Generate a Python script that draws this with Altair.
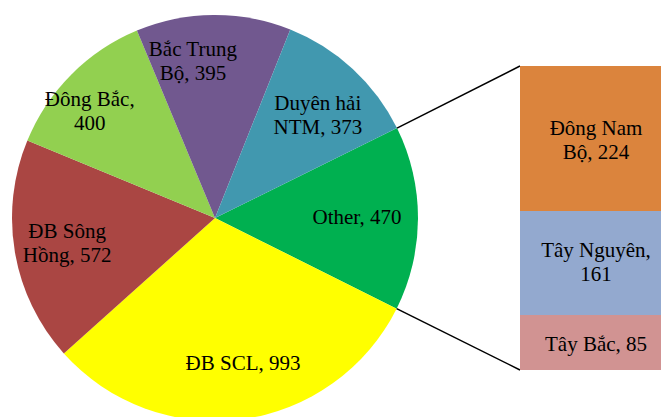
import math
import altair as alt
import pandas as pd

# ---- data ----
pie_categories = ["Other", "ĐB SCL", "ĐB Sông Hồng", "Đông Bắc", "Bắc Trung Bộ", "Duyên hải NTM"]
pie_values = [470, 993, 572, 400, 395, 373]
pie_labels = ["Other, 470", "ĐB SCL, 993", "ĐB Sông\nHồng, 572", "Đông Bắc,\n400",
              "Bắc Trung\nBộ, 395", "Duyên hải\nNTM, 373"]

bar_categories = ["Đông Nam Bộ", "Tây Nguyên", "Tây Bắc"]
bar_values = [224, 161, 85]
bar_labels = ["Đông Nam\nBộ, 224", "Tây Nguyên,\n161", "Tây Bắc, 85"]

# ---- styles / geometry ----
pie_colors = ["#00B050", "#FFFF00", "#AA4643", "#92D050", "#71588F", "#4198AF"]
bar_colors = ["#DB843D", "#93A9CF", "#D19392"]
CX, CY, R = 215, 218, 203
START_DEG = 63.7
LABEL_R = 150
BAR_X0, BAR_X1, BAR_TOP, BAR_BOTTOM = 520, 661, 66, 370
BAR_LABEL_X = 596
FONT = "'Liberation Serif', 'Times New Roman', 'DejaVu Serif', serif"
FS = 21
LH = 24
label_nudge = {
    "Other": (-8, 0),
    "ĐB SCL": (8, -3),
    "ĐB Sông Hồng": (0, 1),
    "Đông Bắc": (-19, 0),
    "Bắc Trung Bộ": (-21, -6),
    "Duyên hải NTM": (1, 8),
}
bar_label_nudge = {"Đông Nam Bộ": 3, "Tây Nguyên": 0, "Tây Bắc": 2}

start = math.radians(START_DEG)
theta_scale = alt.Scale(range=[start, start + 2 * math.pi])
color_scale = alt.Scale(domain=pie_categories + bar_categories, range=pie_colors + bar_colors)

pie_df = pd.DataFrame({
    "category": pie_categories,
    "value": pie_values,
    "label": pie_labels,
    "idx": list(range(len(pie_categories))),
})

bar_df = pd.DataFrame({
    "category": bar_categories,
    "value": bar_values,
    "label": bar_labels,
    "idx": list(range(len(bar_categories)))[::-1],  # bottom first in stack
})


def block_shift(text):
    return -(text.count("\n")) * LH / 2


arcs = alt.Chart(pie_df).mark_arc(outerRadius=R).encode(
    theta=alt.Theta("value:Q", stack=True, scale=theta_scale),
    color=alt.Color("category:N", scale=color_scale, legend=None),
    order=alt.Order("idx:Q"),
    x=alt.value(CX),
    y=alt.value(CY),
)

label_layers = []
for cat, lab in zip(pie_categories, pie_labels):
    dx, dy = label_nudge[cat]
    label_layers.append(
        alt.Chart(pie_df).mark_text(
            radius=LABEL_R, font=FONT, fontSize=FS, lineBreak="\n", lineHeight=LH,
            color="black", align="center", baseline="middle",
            dx=dx, dy=dy + block_shift(lab),
        ).encode(
            theta=alt.Theta("value:Q", stack=True, scale=theta_scale),
            order=alt.Order("idx:Q"),
            text=alt.condition(alt.datum.category == cat, "label:N", alt.value("")),
            x=alt.value(CX),
            y=alt.value(CY),
        )
    )

# connector lines from the "Other" slice edges to the bar corners
total = sum(pie_values)
other_frac = pie_values[pie_categories.index("Other")] / total
a1 = start
a2 = start + other_frac * 2 * math.pi
lines_df = pd.DataFrame({
    "x0": [CX + R * math.sin(a1), CX + R * math.sin(a2)],
    "y0": [CY - R * math.cos(a1), CY - R * math.cos(a2)],
    "x1": [BAR_X0, BAR_X0],
    "y1": [BAR_TOP, BAR_BOTTOM],
})
lines = alt.Chart(lines_df).mark_rule(color="black", strokeWidth=1.5).encode(
    x=alt.X("x0:Q", scale=None),
    y=alt.Y("y0:Q", scale=None),
    x2="x1:Q",
    y2="y1:Q",
)

y_scale = alt.Scale(domain=[0, sum(bar_values)], range=[BAR_BOTTOM, BAR_TOP])

bar_base = alt.Chart(bar_df).transform_stack(
    stack="value", groupby=[], as_=["s0", "s1"], sort=[alt.SortField("idx")]
).transform_calculate(
    mid="(datum.s0 + datum.s1) / 2"
)

bars = bar_base.mark_bar().encode(
    x=alt.value(BAR_X0),
    x2=alt.value(BAR_X1),
    y=alt.Y("s0:Q", scale=y_scale, axis=None),
    y2="s1:Q",
    color=alt.Color("category:N", scale=color_scale, legend=None),
)

bar_text_layers = []
for cat, lab in zip(bar_categories, bar_labels):
    bar_text_layers.append(
        bar_base.transform_filter(alt.datum.category == cat).mark_text(
            font=FONT, fontSize=FS, lineBreak="\n", lineHeight=LH, color="black",
            align="center", baseline="middle",
            dy=bar_label_nudge[cat] + block_shift(lab),
        ).encode(
            x=alt.value(BAR_LABEL_X),
            y=alt.Y("mid:Q", scale=y_scale, axis=None),
            text="label:N",
        )
    )

chart = alt.layer(arcs, *label_layers, lines, bars, *bar_text_layers).properties(
    width=662, height=417, padding=0, autosize=alt.AutoSizeParams(type="none"),
).configure_view(stroke=None)

chart.save("out.html", embed_options={"renderer": "svg", "actions": False})
